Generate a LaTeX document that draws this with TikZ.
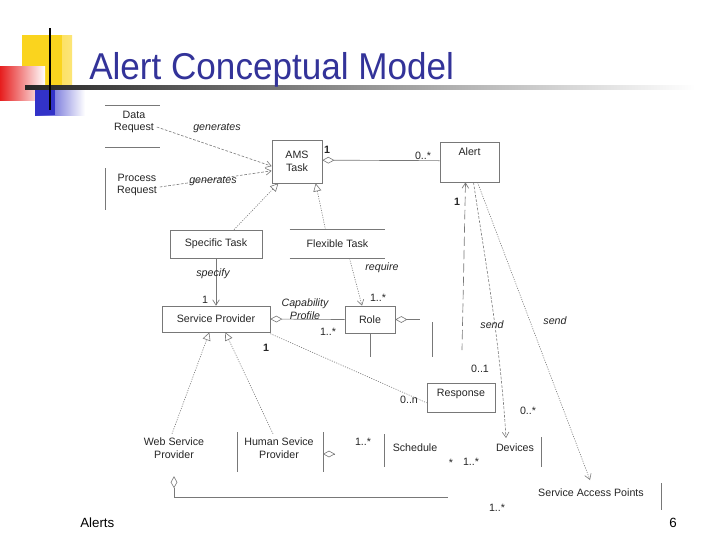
\documentclass[tikz,border=0pt]{standalone}
\usepackage{fontspec}
\setmainfont{Liberation Sans}
\usetikzlibrary{arrows.meta}
\definecolor{titleblue}{RGB}{51,51,153}
\definecolor{lgray}{RGB}{120,120,120}
\definecolor{sqyellow}{RGB}{250,212,30}
\definecolor{sqred}{RGB}{230,30,30}
\definecolor{sqblue}{RGB}{50,50,200}
\tikzset{
  txt/.style={font=\fontsize{8}{9.5}\selectfont, inner sep=0.5pt, align=center, text=black!85},
  lab/.style={font=\fontsize{8}{9.5}\selectfont, inner sep=0.5pt, text=black!85},
  ilab/.style={font=\fontsize{8}{9.5}\selectfont\itshape, inner sep=0.5pt, align=center, text=black!85},
  blab/.style={font=\fontsize{8}{9.5}\selectfont\bfseries, inner sep=0.5pt, text=black!85},
  box/.style={draw=lgray, line width=0.5pt, inner sep=0pt, align=center, font=\fontsize{8}{9.5}\selectfont, text=black!85},
  ln/.style={draw=lgray, line width=0.5pt},
  dep/.style={draw=lgray, line width=0.45pt, dash pattern=on 2pt off 1.2pt, -{Straight Barb[length=4pt,width=5pt]}},
  gen/.style={draw=lgray, line width=0.45pt, dash pattern=on 0.8pt off 1pt, -{Triangle[open,length=6pt,width=6pt,line width=0.45pt]}},
  dotarr/.style={draw=lgray, line width=0.45pt, dash pattern=on 0.8pt off 1pt, -{Straight Barb[length=4pt,width=5pt]}},
  agg/.style={draw=lgray, line width=0.5pt, {Diamond[open,length=9pt,width=5pt,line width=0.45pt]}-},
}
\begin{document}
\begin{tikzpicture}[x=0.75pt,y=-0.75pt]
\useasboundingbox (0,0) rectangle (720,540);
\fill[white] (0,0) rectangle (720,540);
% decorations
\shade[left color=sqyellow, right color=sqyellow!60] (22,35) rectangle (72,85);
\fill[sqyellow] (22,35) rectangle (62,85);
\shade[left color=sqred, right color=white] (0,66) rectangle (45,100);
\shade[left color=sqblue, right color=white] (35,85) rectangle (85,115);
\fill[sqblue] (35,85) rectangle (55,115);
\shade[left color=black!85, right color=white] (25,85.5) rectangle (695,89.5);
\draw[black, line width=1.6pt] (50,28) -- (50,110);
\node[anchor=base west, inner sep=0pt, text=titleblue, font=\fontsize{28}{30}\selectfont] (title) at (89,79) {\scalebox{0.94}[1]{Alert Conceptual Model}};
% footer
\node[anchor=base west, inner sep=0pt, font=\fontsize{10}{12}\selectfont] (foot) at (80,527) {Alerts};
\node[anchor=base east, inner sep=0pt, font=\fontsize{10}{12}\selectfont] (page) at (677,527) {6};

% nodes
\node[txt] (dr) at (134,122) {Data\\Request};
\draw[ln] (105,105) -- (160,105) coordinate (drtop);
\draw[ln] (105,147) -- (160,147) coordinate (drbot);
\node[txt] (pr) at (137,185) {Process\\Request};
\draw[ln] (105,168) -- (105,210) coordinate (prl);
\node[box, minimum width=37.5pt, minimum height=32.25pt] (ams) at (297,161.5) {AMS\\Task};
\node[box, minimum width=44.25pt, minimum height=30pt] (alert) at (469.5,162) {};
\node[txt, anchor=north] (alertt) at (469.5,147) {Alert};
\node[box, minimum width=69pt, minimum height=21pt] (st) at (216,244) {Specific Task};
\node[txt, minimum width=71.25pt, minimum height=21pt] (ft) at (337.5,244) {Flexible Task};
\draw[ln] (ft.north west) -- (ft.north east);
\draw[ln] (ft.south west) -- (ft.south east);
\node[box, minimum width=81pt, minimum height=19.5pt] (sp) at (216,319) {Service Provider};
\node[box, minimum width=37.5pt, minimum height=20.25pt] (role) at (370,319.5) {Role};
\node[box, minimum width=51pt, minimum height=21.75pt] (resp) at (461,397.5) {};
\node[txt, anchor=north] (respt) at (461,388) {Response};
\node[txt] (wsp) at (174,448) {Web Service\\Provider};
\node[txt] (hsp) at (279,448) {Human Sevice\\Provider};
\draw[ln] (237,432) -- (237,472);
\draw[ln] (323,432) -- (323,472);
\node[txt] (sch) at (415,448) {Schedule};
\draw[ln] (384,434) -- (384,467);
\node[txt] (dev) at (515,448) {Devices};
\draw[ln] (541,437) -- (541,467);
\node[txt] (sap) at (591,493) {Service Access Points};
\draw[ln] (661,483) -- (661,510);

% connectors
\draw[dep] (dr.east) ++(2,5) coordinate (dre) -- ([yshift=-3.5pt]ams.west);
\draw[dep] (pr.east) ++(2,2) coordinate (pre) -- ([yshift=-7pt]ams.west);
\draw[agg] ([yshift=1pt]ams.east) -- ([yshift=1pt]alert.west);
\draw[gen] (st.north) ++(18,0) coordinate (stn) -- ([xshift=-14pt]ams.south);
\draw[gen] (ft.north) ++(-12,0) coordinate (ftn) -- ([xshift=14pt]ams.south);
\draw[ln, -{Straight Barb[length=4pt,width=5pt]}] (st.south) -- (st.south |- sp.north);
\draw[agg] (sp.east) -- (role.west);
\draw[dotarr] ([xshift=9pt]ft.south) -- ([xshift=-6pt]role.north);
\draw[agg] (role.east) -- ++(25,0) coordinate (rolex);
\draw[ln] (role.south) -- ++(0,24) coordinate (roled);
\draw[ln] (432,322) coordinate (vl1) -- (432,357) coordinate (vl2);
\draw[draw=lgray, line width=0.5pt, dash pattern=on 7pt off 3pt, {Straight Barb[length=4pt,width=5pt]}-] ([xshift=-3pt]alert.south) -- (462,350) coordinate (aend);
\draw[dep] ([xshift=3pt]alert.south) .. controls (485,260) and (500,340) .. (506,438);
\draw[dotarr] ([xshift=6pt]alert.south) -- (590,480);
\draw[draw=lgray, line width=0.45pt, dash pattern=on 0.8pt off 1pt] ([yshift=-1pt]sp.south east) -- ([yshift=-4pt]resp.west);
\draw[gen] (wsp.north) ++(-2,-3) coordinate (wspn) -- ([xshift=-5pt]sp.south);
\draw[gen] (hsp.north) ++(-6,-3) coordinate (hspn) -- ([xshift=7pt]sp.south);
\draw[agg] (323,454) -- (334,454) coordinate (hspd);
\draw[agg] (wsp.south) ++(0,17) coordinate (wsps) -- (174,497) -- (448,497) coordinate (wspe);

% labels
\node[ilab] (g1) at (217,128) {generates};
\node[ilab] (g2) at (213,181) {generates};
\node[blab] (m1) at (327,150) {1};
\node[lab] (m2) at (423,156) {0..*};
\node[blab] (m3) at (457,202) {1};
\node[ilab] (l1) at (213,274) {specify};
\node[ilab] (l2) at (382,268) {require};
\node[lab] (m4) at (205,300) {1};
\node[lab] (m5) at (378,298) {1..*};
\node[ilab] (cp) at (305,309) {Capability\\Profile};
\node[lab] (m6) at (328,332) {1..*};
\node[blab] (m7) at (266,348) {1};
\node[ilab] (s1) at (492,325) {send};
\node[ilab] (s2) at (555,321) {send};
\node[lab] (m8) at (480,369) {0..1};
\node[lab] (m9) at (409,400) {0..n};
\node[lab] (m10) at (528,411) {0..*};
\node[lab] (m11) at (363,442) {1..*};
\node[lab] (m12) at (451,463) {*};
\node[lab] (m13) at (471,462) {1..*};
\node[lab] (m14) at (497,508) {1..*};
\end{tikzpicture}
\end{document}
